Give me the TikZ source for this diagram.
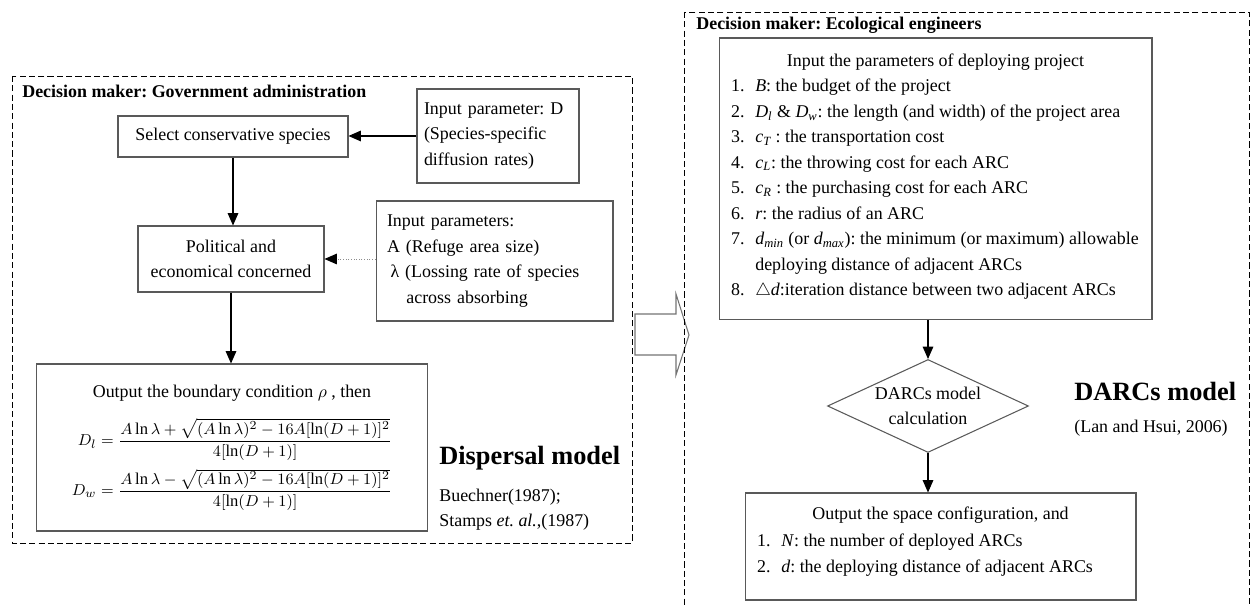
\documentclass[tikz,border=0pt]{standalone}
\usepackage{amsmath,amssymb}
\usepackage{fontspec}
\setmainfont{Liberation Serif}
\usepackage{tikz}
\usetikzlibrary{arrows.meta,positioning,shapes.geometric}
\frenchspacing
\newcommand\dmfont{\fontsize{10.2}{14.5}\selectfont}
\newcommand\dmitem[2]{\par\hangindent=13.8pt\hangafter=1\noindent\makebox[13.8pt][l]{#1}#2\par}
\newcommand\dmsub[1]{\textsubscript{\itshape #1}}
\tikzset{
  dmbox/.style={draw=black!65,line width=0.6pt,inner sep=0pt,align=center,font=\dmfont},
  dmflow/.style={-{Triangle[length=7pt,width=6pt]},line width=0.6pt},
  dmdot/.style={-{Triangle[length=7pt,width=6pt,color=black]},densely dotted,draw=black!45,line width=0.5pt},
  dmframe/.style={draw,line width=0.5pt,dash pattern=on 3.5pt off 1.8pt},
  dmhead/.style={font=\bfseries\dmfont,anchor=west,inner sep=0pt},
  dmmodel/.style={font=\bfseries\fontsize{15}{18}\selectfont,anchor=west,inner sep=0pt},
  dmcite/.style={font=\dmfont,anchor=west,inner sep=0pt},
}

\begin{document}
\begin{tikzpicture}[x=0.02cm,y=-0.02cm]
\useasboundingbox (0,0) rectangle (1250,607);
\clip (0,0) rectangle (1250,607);
% left panel: dispersal model
\draw[dmframe] (12,76) rectangle (632,543);
\node[dmhead] (govt) at (22,91) {Decision maker: Government administration};
\node[dmbox,minimum width=4.6cm,minimum height=0.82cm] (sel) at (233,136.5) {Select conservative species};
\node[dmbox,align=left,text width=2.96cm,inner xsep=0.14cm,minimum height=1.88cm] (inD) at (498,136) {Input parameter: D\\(Species-specific\\diffusion rates)};
\node[dmbox,minimum width=3.72cm,minimum height=1.32cm] (pol) at (231,259) {Political and\\economical concerned};
\node[dmbox,align=left,text width=4.3cm,inner xsep=0.22cm,minimum height=2.4cm] (inA) at (494.5,261) {Input parameters:\\A (Refuge area size)\\\hspace*{2pt}λ (Lossing rate of species\\\hspace*{11pt}across absorbing};
\node[dmbox,minimum width=7.84cm,minimum height=3.34cm] (outB) at (232,447.5) {Output the boundary condition $\rho$ , then\\[9pt]
  {\fontsize{9.4}{12}\selectfont$\begin{aligned}
  D_l &= \frac{A\ln\lambda+\sqrt{(A\ln\lambda)^2-16A[\ln(D+1)]^2}}{4[\ln(D+1)]}\\[1pt]
  D_w &= \frac{A\ln\lambda-\sqrt{(A\ln\lambda)^2-16A[\ln(D+1)]^2}}{4[\ln(D+1)]}
  \end{aligned}$}};
\node[dmmodel] (dispmod) at (439,458) {Dispersal model};
\node[dmcite] (buech) at (439,497) {Buechner(1987);};
\node[dmcite] (stamps) at (439,522) {Stamps \textit{et. al.},(1987)};
\draw[dmflow] (inD.west) -- (inD.west -| sel.east);
\draw[dmflow] (sel.south) -- (sel.south |- pol.north);
\draw[dmdot] (pol.east -| inA.west) -- (pol.east);
\draw[dmflow] (pol.south) -- (pol.south |- outB.north);
% block arrow between the panels
\draw[draw=black!55,line width=0.6pt] (635,314) -- (676,314) -- (676,294) -- (689,335) -- (676,375) -- (676,355) -- (635,355) -- cycle;
% right panel: DARCs model
\draw[dmframe] (684,12) rectangle (1249,640);
\node[dmhead] (eco) at (696,25) {Decision maker: Ecological engineers};
\node[dmbox,minimum width=8.66cm] (inP) at (935.5,179) {\begin{minipage}[c][5.64cm][t]{8.18cm}\vspace{9pt}
  \centering Input the parameters of deploying project\par\raggedright
  \dmitem{1.}{\textit{B}: the budget of the project}
  \dmitem{2.}{\textit{D}\dmsub{l} \& \textit{D}\dmsub{w}: the length (and width) of the project area}
  \dmitem{3.}{\textit{c}\dmsub{T} : the transportation cost}
  \dmitem{4.}{\textit{c}\dmsub{L}: the throwing cost for each ARC}
  \dmitem{5.}{\textit{c}\dmsub{R} : the purchasing cost for each ARC}
  \dmitem{6.}{\textit{r}: the radius of an ARC}
  \dmitem{7.}{\textit{d}\dmsub{min} (or \textit{d}\dmsub{max}): the minimum (or maximum) allowable\newline deploying distance of adjacent ARCs}
  \dmitem{8.}{$\triangle$\textit{d}:iteration distance between two adjacent ARCs}
  \end{minipage}};
\node[dmbox,shape=diamond,aspect=2.16,minimum width=4.02cm,minimum height=1.86cm] (calc) at (928,406) {DARCs model\\calculation};
\node[dmbox,minimum width=7.82cm] (outS) at (940.5,546.5) {\begin{minipage}[c][2.14cm][t]{7.34cm}\vspace{7.7pt}\setlength\baselineskip{15.3pt}
  \centering Output the space configuration, and\par\raggedright
  \dmitem{1.}{\textit{N}: the number of deployed ARCs}
  \dmitem{2.}{\textit{d}: the deploying distance of adjacent ARCs}
  \end{minipage}};
\node[dmmodel] (darcmod) at (1074,391) {DARCs model};
\node[dmcite] (lan) at (1074,428) {(Lan and Hsui, 2006)};
\draw[dmflow] (inP.south -| calc.north) -- (calc.north);
\draw[dmflow] (calc.south) -- (calc.south |- outS.north);
\end{tikzpicture}
\end{document}
